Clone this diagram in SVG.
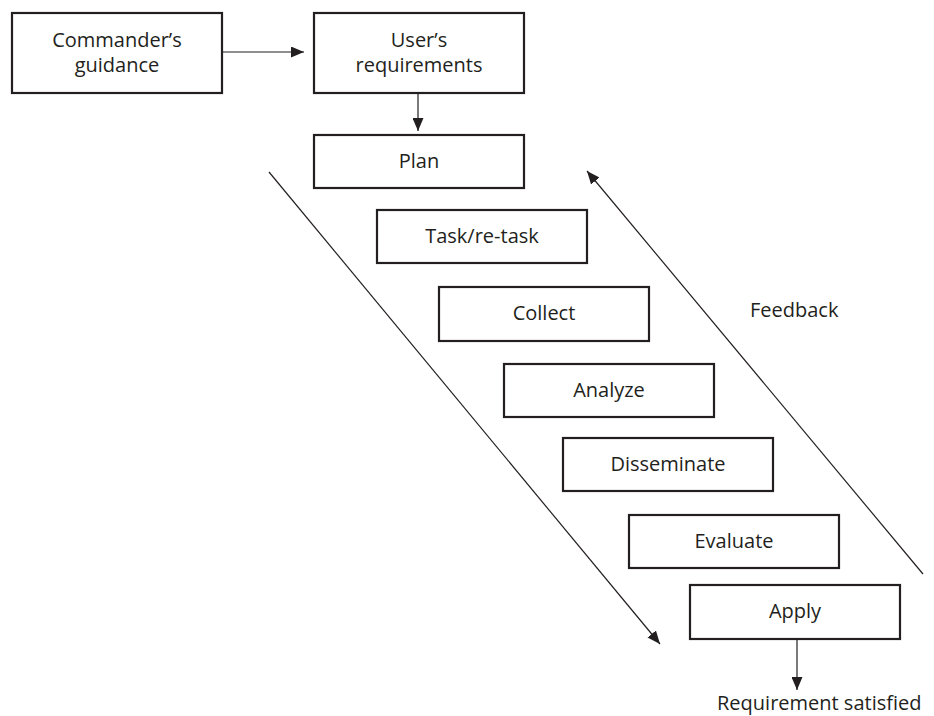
<svg xmlns="http://www.w3.org/2000/svg" width="934" height="716" viewBox="0 0 934 716">
  <style>
    .box { fill: #ffffff; stroke: #231f20; stroke-width: 2.2; }
    .lbl { font-family: "Open Sans", "Liberation Sans", sans-serif; font-size: 20px; fill: #231f20; text-anchor: middle; }
    .free { font-family: "Open Sans", "Liberation Sans", sans-serif; font-size: 20px; fill: #231f20; }
    .link { stroke: #231f20; stroke-width: 1.2; fill: none; }
  </style>
  <defs>
    <marker id="arrow" viewBox="0 0 13 11" refX="13" refY="5.5" markerWidth="13" markerHeight="11" markerUnits="userSpaceOnUse" orient="auto">
      <path d="M0,0 L13,5.5 L0,11 Z" fill="#231f20"/>
    </marker>
  </defs>

  <rect width="934" height="716" fill="#ffffff"/>

  <g id="connectors">
    <line class="link" x1="222" y1="52" x2="304" y2="52" marker-end="url(#arrow)"/>
    <line class="link" x1="418" y1="93" x2="418" y2="131" marker-end="url(#arrow)"/>
    <line class="link" x1="269" y1="172" x2="660" y2="644" marker-end="url(#arrow)"/>
    <line class="link" x1="923" y1="574" x2="587" y2="171" marker-end="url(#arrow)"/>
    <line class="link" x1="797" y1="639" x2="797" y2="690" marker-end="url(#arrow)"/>
  </g>

  <g id="commanders-guidance">
    <rect class="box" x="12" y="13" width="210" height="80"/>
    <text class="lbl" x="117" y="47">Commander’s</text>
    <text class="lbl" x="117" y="72">guidance</text>
  </g>

  <g id="users-requirements">
    <rect class="box" x="314" y="13" width="210" height="80"/>
    <text class="lbl" x="419" y="47">User’s</text>
    <text class="lbl" x="419" y="72">requirements</text>
  </g>

  <g id="plan">
    <rect class="box" x="314" y="135" width="210" height="53"/>
    <text class="lbl" x="419" y="168">Plan</text>
  </g>

  <g id="task">
    <rect class="box" x="377" y="210" width="210" height="53"/>
    <text class="lbl" x="482" y="243">Task/re-task</text>
  </g>

  <g id="collect">
    <rect class="box" x="439" y="287" width="210" height="54"/>
    <text class="lbl" x="544" y="320">Collect</text>
  </g>

  <g id="analyze">
    <rect class="box" x="504" y="364" width="210" height="53"/>
    <text class="lbl" x="609" y="397">Analyze</text>
  </g>

  <g id="disseminate">
    <rect class="box" x="563" y="438" width="210" height="53"/>
    <text class="lbl" x="668" y="471">Disseminate</text>
  </g>

  <g id="evaluate">
    <rect class="box" x="629" y="515" width="210" height="53"/>
    <text class="lbl" x="734" y="548">Evaluate</text>
  </g>

  <g id="apply">
    <rect class="box" x="690" y="585" width="210" height="54"/>
    <text class="lbl" x="795" y="618">Apply</text>
  </g>

  <g id="labels">
    <text class="free" x="750" y="317">Feedback</text>
    <text class="free" x="717" y="710">Requirement satisfied</text>
  </g>
</svg>
